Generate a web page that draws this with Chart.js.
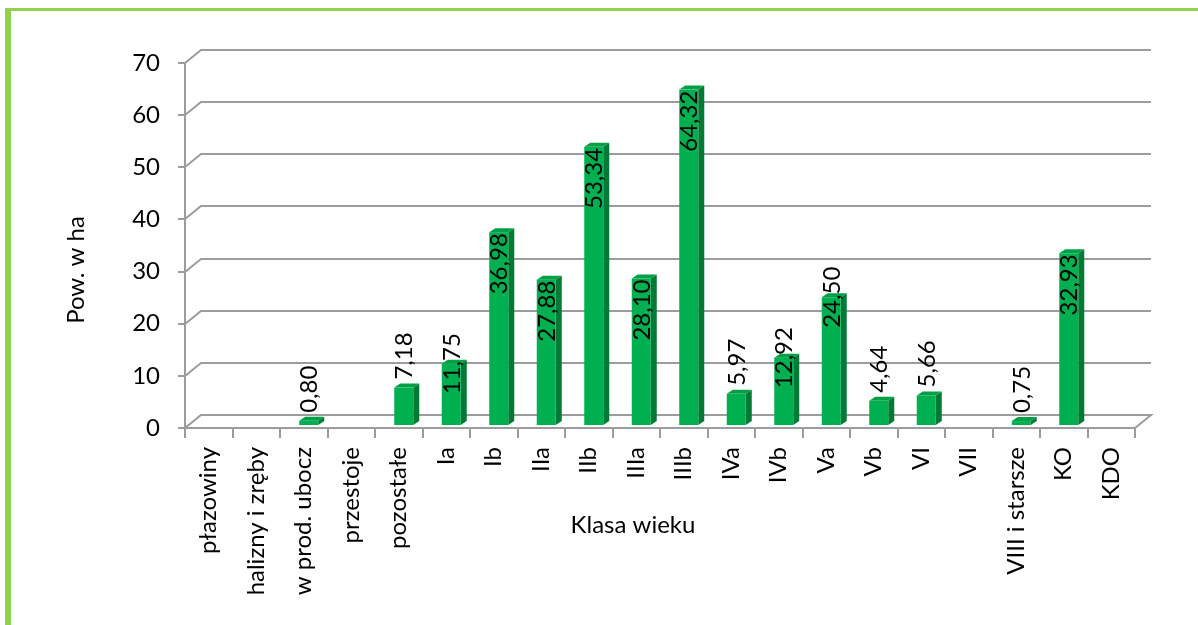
<!DOCTYPE html>
<html>
<head>
<meta charset="utf-8">
<script src="https://cdn.jsdelivr.net/npm/chart.js@4"></script>
<style>
  body { margin: 0; background: #fff; }
  #wrap { position: relative; width: 1198px; height: 625px; overflow: hidden; }
  #frame { position: absolute; left: 5px; top: 8px; width: 1300px; height: 700px;
           border-left: 6px solid #92d050; border-top: 3px solid #92d050; }
  canvas { position: absolute; left: 0; top: 0; }
</style>
</head>
<body>
<div id="wrap">
  <div id="frame"></div>
  <canvas id="c" width="1198" height="625"></canvas>
</div>
<script>
// klasy wieku i powierzchnie (ha)
const categories = ["płazowiny", "halizny i zręby", "w prod. ubocz", "przestoje", "pozostałe",
  "Ia", "Ib", "IIa", "IIb", "IIIa", "IIIb", "IVa", "IVb", "Va", "Vb", "VI", "VII",
  "VIII i starsze", "KO", "KDO"];
const area = [null, null, 0.80, null, 7.18, 11.75, 36.98, 27.88, 53.34, 28.10, 64.32,
  5.97, 12.92, 24.50, 4.64, 5.66, null, 0.75, 32.93, null];
const yTicks = [0, 10, 20, 30, 40, 50, 60, 70];

const FONT = "Lato, 'Open Sans', sans-serif";
const wallDX = 16, wallDY = 13;   // przesuniecie tylnej sciany
const barDX = 5, barDY = 3;       // slupki w polowie glebokosci
const sideW = 6, topH = 4;

const fmt = v => v.toFixed(2).replace(".", ",");

const look3d = {
  id: "look3d",
  beforeDatasetsDraw(chart) {
    const ctx = chart.ctx, a = chart.chartArea, y = chart.scales.y;
    ctx.save();
    ctx.strokeStyle = "#9c9c9c";
    ctx.lineWidth = 2;
    yTicks.forEach(t => {
      const py = Math.round(y.getPixelForValue(t));
      ctx.beginPath();
      ctx.moveTo(a.left - 7, py);
      ctx.lineTo(a.left, py);
      ctx.lineTo(a.left + wallDX, py - wallDY);
      ctx.lineTo(a.right + wallDX, py - wallDY);
      if (t === 0) {
        ctx.lineTo(a.right, py);
        ctx.lineTo(a.left, py);
      }
      ctx.stroke();
    });
    // os pionowa
    ctx.beginPath();
    ctx.moveTo(a.left, y.getPixelForValue(yTicks[yTicks.length - 1]));
    ctx.lineTo(a.left, a.bottom + 1);
    ctx.stroke();
    // kreski kategorii
    const n = categories.length, step = (a.right - a.left) / n;
    for (let i = 0; i <= n; i++) {
      const px = Math.round(a.left + i * step);
      ctx.beginPath();
      ctx.moveTo(px, a.bottom);
      ctx.lineTo(px, a.bottom + 10);
      ctx.stroke();
    }
    ctx.restore();
  },
  afterDatasetsDraw(chart) {
    const ctx = chart.ctx;
    const meta = chart.getDatasetMeta(0);
    ctx.save();
    meta.data.forEach((el, i) => {
      const v = area[i];
      if (v == null) return;
      const p = el.getProps(["x", "y", "base", "width"], true);
      const L = p.x + barDX - p.width / 2, R = p.x + barDX + p.width / 2;
      const T = p.y - barDY, B = p.base - barDY;
      // bok
      ctx.fillStyle = "#007a35";
      ctx.beginPath();
      ctx.moveTo(R, T); ctx.lineTo(R + sideW, T - topH);
      ctx.lineTo(R + sideW, B - topH); ctx.lineTo(R, B);
      ctx.closePath(); ctx.fill();
      // gora
      ctx.fillStyle = "#00a046";
      ctx.beginPath();
      ctx.moveTo(L, T); ctx.lineTo(L + sideW, T - topH);
      ctx.lineTo(R + sideW, T - topH); ctx.lineTo(R, T);
      ctx.closePath(); ctx.fill();
      // przod
      ctx.fillStyle = "#00b050";
      ctx.fillRect(L, T, R - L, B - T);
    });
    // etykiety danych
    ctx.fillStyle = "#000";
    ctx.font = "24px " + FONT;
    ctx.textBaseline = "middle";
    meta.data.forEach((el, i) => {
      const v = area[i];
      if (v == null) return;
      const p = el.getProps(["x", "y"], true);
      const fx = p.x + barDX, top = p.y - barDY;
      ctx.save();
      let ay;
      if (v < 10) { ctx.textAlign = "left"; ay = top - 8; }
      else if (v < 25) { ctx.textAlign = "center"; ay = top; }
      else { ctx.textAlign = "right"; ay = top + 1; }
      ctx.translate(fx, ay);
      ctx.rotate(-Math.PI / 2);
      ctx.fillText(fmt(v), 0, 1);
      ctx.restore();
    });
    ctx.restore();
  },
  afterDraw(chart) {
    const ctx = chart.ctx;
    ctx.save();
    ctx.fillStyle = "#000";
    ctx.font = "24px " + FONT;
    ctx.textAlign = "center";
    ctx.textBaseline = "middle";
    ctx.fillText("Klasa wieku", 633, 525);
    ctx.translate(76, 270);
    ctx.rotate(-Math.PI / 2);
    ctx.fillText("Pow. w ha", 0, 0);
    ctx.restore();
  }
};

new Chart(document.getElementById("c"), {
  type: "bar",
  data: {
    labels: categories,
    datasets: [{
      label: "Pow. w ha",
      data: area,
      backgroundColor: "rgba(0,0,0,0)",
      barThickness: 19
    }]
  },
  options: {
    responsive: false,
    animation: false,
    layout: { padding: { left: 0, top: 63, right: 63, bottom: 0 } },
    plugins: { legend: { display: false }, tooltip: { enabled: false } },
    scales: {
      x: {
        grid: { display: false, drawTicks: false },
        border: { display: false },
        ticks: {
          autoSkip: false, minRotation: 90, maxRotation: 90, padding: 19,
          color: "#000", font: { family: FONT, size: 24 }
        },
        afterFit(s) { s.height = 197; }
      },
      y: {
        min: 0, max: 70,
        grid: { display: false, drawTicks: false },
        border: { display: false },
        ticks: {
          stepSize: 10, padding: 25,
          color: "#000", font: { family: FONT, size: 24 }
        },
        afterFit(s) { s.width = 185; }
      }
    }
  },
  plugins: [look3d]
});
</script>
</body>
</html>
